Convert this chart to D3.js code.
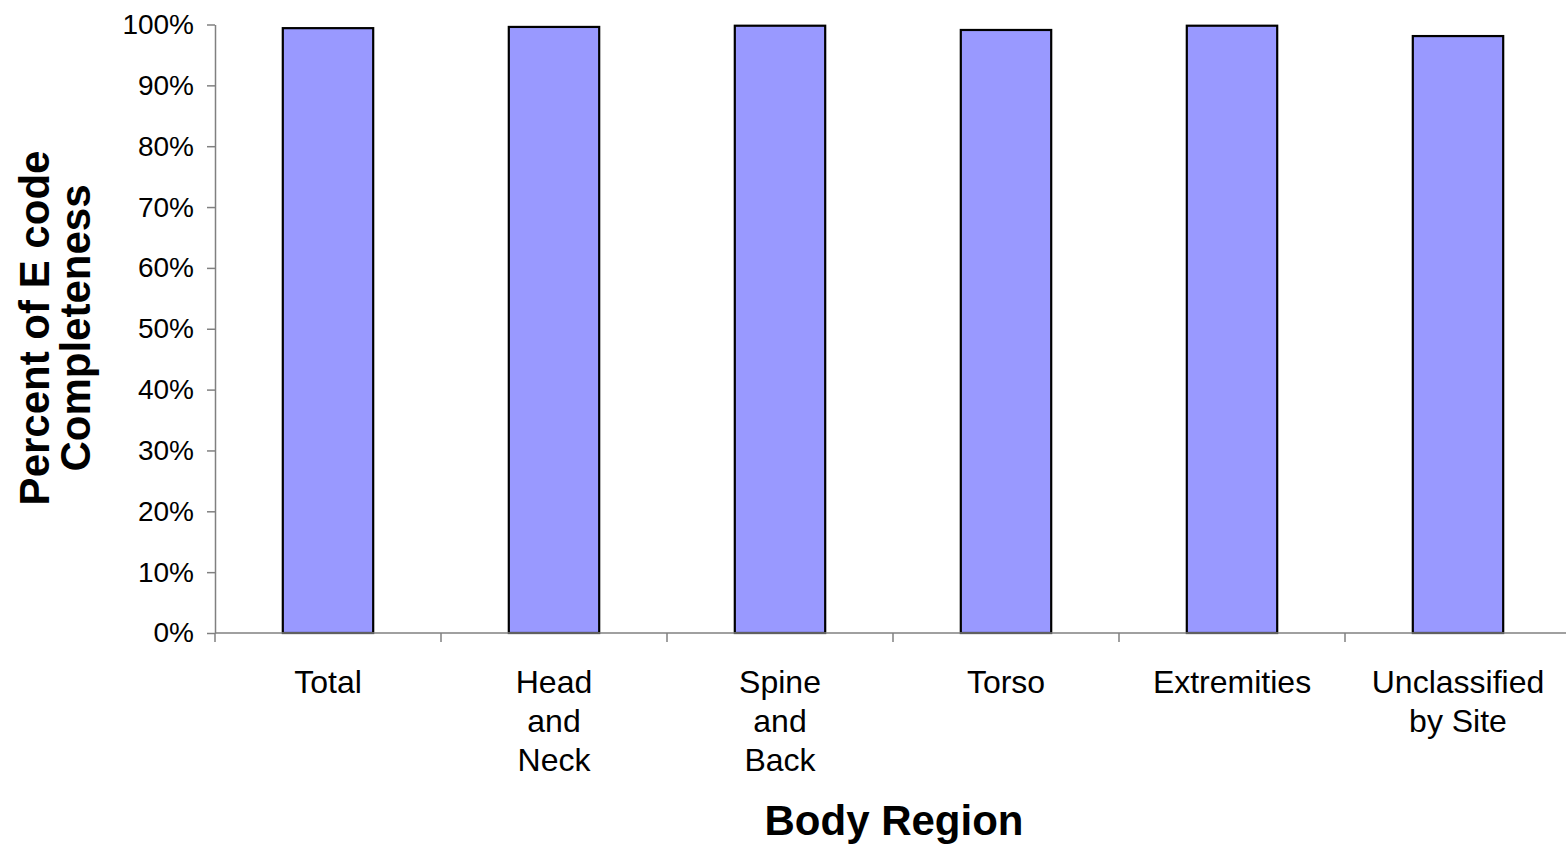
<!DOCTYPE html>
<html>
<head>
<meta charset="utf-8">
<script src="https://cdn.jsdelivr.net/npm/d3@7"></script>
<style>
  body { margin: 0; background: #fff; }
  svg { display: block; font-family: Arial, "Liberation Sans", sans-serif; }
</style>
</head>
<body>
<svg width="1566" height="844"></svg>
<script>
// Body regions and their E code completeness (fraction)
const regions = ["Total", "Head and Neck", "Spine and Back", "Torso", "Extremities", "Unclassified by Site"];
const region_lines = [["Total"], ["Head", "and", "Neck"], ["Spine", "and", "Back"], ["Torso"], ["Extremities"], ["Unclassified", "by Site"]];
const completeness = [0.994, 0.996, 0.998, 0.991, 0.998, 0.981];
const y_ticks = [0, 0.1, 0.2, 0.3, 0.4, 0.5, 0.6, 0.7, 0.8, 0.9, 1.0];

const svg = d3.select("svg");

// Plot area
const plot_left = 215, plot_top = 24.5, plot_bottom = 633, step = 226;

const x = d3.scaleBand()
    .domain(regions)
    .range([plot_left, plot_left + step * regions.length])
    .paddingInner(0.6)
    .paddingOuter(0.3);

const y = d3.scaleLinear()
    .domain([0, 1])
    .range([plot_bottom, plot_top]);

// Bars
svg.append("g")
    .selectAll("rect")
    .data(completeness)
    .enter()
    .append("rect")
        .attr("x", (d, i) => x(regions[i]))
        .attr("y", d => y(d))
        .attr("width", x.bandwidth())
        .attr("height", d => y(0) - y(d))
        .attr("fill", "#9999ff")
        .attr("stroke", "#000")
        .attr("stroke-width", 2.2);

// Y axis
const yAxis = svg.append("g")
    .attr("transform", `translate(${plot_left},0)`)
    .call(d3.axisLeft(y).tickValues(y_ticks).tickFormat(d3.format(".0%")).tickSize(8).tickSizeOuter(0));
yAxis.select(".domain").attr("stroke", "#808080").attr("stroke-width", 1.5);
yAxis.selectAll(".tick line").attr("stroke", "#808080").attr("stroke-width", 1.5);
yAxis.selectAll(".tick text")
    .attr("x", -21)
    .attr("font-size", 28)
    .attr("fill", "#000")
    .attr("font-family", "Arial, 'Liberation Sans', sans-serif");

// X axis line with ticks between categories
const boundaries = d3.range(regions.length + 1).map(i => plot_left + step * i);
svg.append("line")
    .attr("x1", plot_left).attr("x2", boundaries[boundaries.length - 1])
    .attr("y1", y(0)).attr("y2", y(0))
    .attr("stroke", "#808080").attr("stroke-width", 1.5);
svg.append("g")
    .selectAll("line")
    .data(boundaries)
    .enter()
    .append("line")
        .attr("x1", d => d).attr("x2", d => d)
        .attr("y1", y(0)).attr("y2", y(0) + 9)
        .attr("stroke", "#808080").attr("stroke-width", 1.5);

// Category labels, several lines each
const labels = svg.append("g")
    .selectAll("text")
    .data(regions)
    .enter()
    .append("text")
        .attr("text-anchor", "middle")
        .attr("font-size", 32)
        .attr("fill", "#000");
labels.each(function(d, i) {
    const cx = x(d) + x.bandwidth() / 2;
    d3.select(this).selectAll("tspan")
        .data(region_lines[i])
        .enter()
        .append("tspan")
            .attr("x", cx)
            .attr("y", (t, j) => 693 + j * 39)
            .text(t => t);
});

// Axis titles
svg.append("text")
    .attr("x", 894)
    .attr("y", 835)
    .attr("text-anchor", "middle")
    .attr("font-size", 42)
    .attr("font-weight", "bold")
    .text("Body Region");

const ytitle = svg.append("text")
    .attr("transform", "translate(0,328) rotate(-90)")
    .attr("text-anchor", "middle")
    .attr("font-size", 42)
    .attr("font-weight", "bold");
ytitle.append("tspan").attr("x", 0).attr("y", 49).text("Percent of E code");
ytitle.append("tspan").attr("x", 0).attr("y", 90).text("Completeness");
</script>
</body>
</html>
